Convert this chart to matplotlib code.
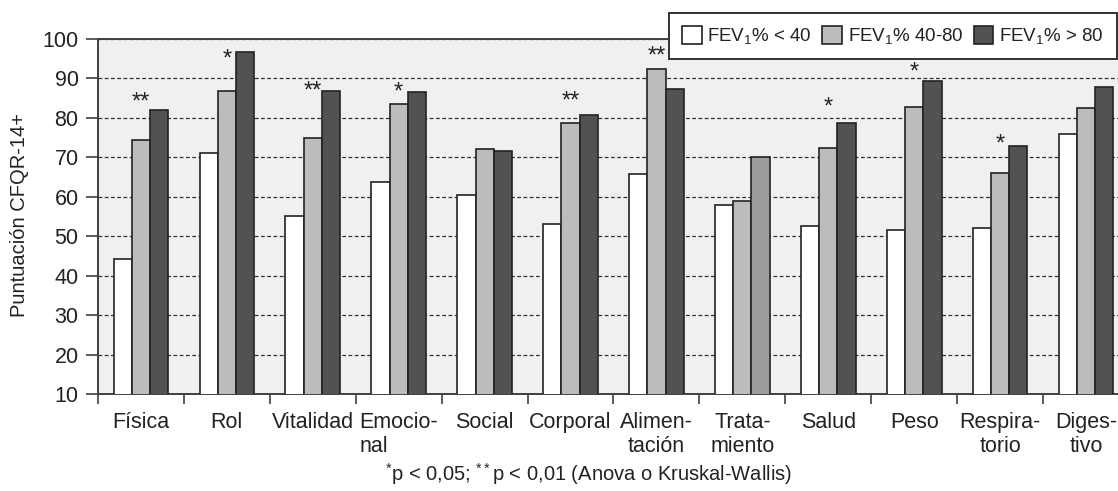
import matplotlib
matplotlib.use("Agg")
import matplotlib.pyplot as plt
import numpy as np
from matplotlib.patches import Patch

plt.rcParams['font.family'] = ['Liberation Sans', 'DejaVu Sans']
plt.rcParams['mathtext.fontset'] = 'custom'
plt.rcParams['mathtext.rm'] = 'Liberation Sans'
plt.rcParams['mathtext.it'] = 'Liberation Sans'
plt.rcParams['mathtext.default'] = 'rm'

categories = ["Física", "Rol", "Vitalidad", "Emocio-\nnal", "Social", "Corporal",
              "Alimen-\ntación", "Trata-\nmiento", "Salud", "Peso", "Respira-\ntorio",
              "Diges-\ntivo"]
fev_lt40 = [44.2, 71.2, 55.2, 63.8, 60.5, 53.1, 65.9, 57.8, 52.6, 51.6, 52.1, 76.0]
fev_40_80 = [74.3, 86.7, 75.0, 83.4, 72.2, 78.6, 92.5, 58.9, 72.3, 82.8, 66.0, 82.4]
fev_gt80 = [81.9, 96.7, 86.7, 86.6, 71.7, 80.7, 87.2, 70.2, 78.6, 89.4, 72.9, 87.8]
signif = ["**", "*", "**", "*", "", "**", "**", "", "*", "*", "*", ""]
signif_y = [85.3, 96.2, 88.1, 87.9, 0, 85.6, 97.0, 0, 84.0, 92.9, 74.7, 0]
series_labels = ["FEV$_1$% < 40", "FEV$_1$% 40-80", "FEV$_1$% > 80"]
yticks = [10, 20, 30, 40, 50, 60, 70, 80, 90, 100]
footnote = "$^{*}$p < 0,05; $^{**}$p < 0,01 (Anova o Kruskal-Wallis)"
ylabel = "Puntuación CFQR-14+"

W, H = 1118, 491
fig = plt.figure(figsize=(W / 100, H / 100), dpi=100)
left, right, top, bottom = 98, 1129, 39, 394
ax = fig.add_axes([left / W, 1 - bottom / H, (right - left) / W, (bottom - top) / H])

c_white = "#ffffff"
c_light = "#bbbcbb"
c_dark = "#525252"
dark_colors = [c_dark] * len(categories)
dark_colors[7] = "#9c9c9c"
edge = "#222222"

n = len(categories)
x = np.arange(n) + 0.5
bw = 0.212
ax.bar(x - bw, fev_lt40, bw, color=c_white, edgecolor=edge, linewidth=1.2, zorder=3)
ax.bar(x, fev_40_80, bw, color=c_light, edgecolor=edge, linewidth=1.2, zorder=3)
ax.bar(x + bw, fev_gt80, bw, color=dark_colors, edgecolor=edge, linewidth=1.2, zorder=3)

for xi, s, sy in zip(x, signif, signif_y):
    if s:
        ax.annotate(s, (xi, sy), xytext=(0, -4), textcoords='offset points',
                    ha='center', va='center', fontsize=17, color='#222222', zorder=4)

ax.set_xlim(0, n)
ax.set_ylim(10, 100)
ax.set_facecolor("#f0f0f0")
ax.set_yticks(yticks)
ax.set_yticklabels([str(v) for v in yticks], fontsize=15.5, color='#222222')
ax.yaxis.grid(True, linestyle=(0, (3, 2)), color='#333333', linewidth=0.9)
ax.set_axisbelow(True)

ax.set_xticks(np.arange(n + 1))
ax.set_xticklabels([])
ax.set_xticks(x, minor=True)
ax.set_xticklabels(categories, minor=True, fontsize=15.5, color='#222222')
ax.tick_params(axis='x', which='major', length=7, width=1.2, color='#404040', direction='out')
ax.tick_params(axis='x', which='minor', length=0, pad=13)
ax.tick_params(axis='y', length=9, width=1.2, color='#404040', pad=5)
for lbl in ax.get_xticklabels(minor=True):
    if lbl.get_text().startswith("Emocio"):
        lbl.set_multialignment('left')

for sp in ax.spines.values():
    sp.set_color('#404040')
    sp.set_linewidth(1.4)

fig.text(20 / W, 1 - 215 / H, ylabel, rotation=90, ha='center', va='center',
         fontsize=14.5, color='#222222')
fig.text(588 / W, 1 - 474 / H, footnote, ha='center', va='center', fontsize=14.5,
         color='#222222')

handles = [Patch(facecolor=c, edgecolor=edge, linewidth=1.2) for c in (c_white, c_light, c_dark)]
leg = fig.legend(handles, series_labels, loc='upper left',
                 bbox_to_anchor=(669 / W, 1 - 13 / H), ncol=3, fontsize=13.5,
                 handlelength=1.05, handleheight=1.05, handletextpad=0.3,
                 columnspacing=0.55, borderpad=0.7, borderaxespad=0,
                 fancybox=False, framealpha=1, edgecolor='#333333')
leg.get_frame().set_linewidth(1.4)
for t in leg.get_texts():
    t.set_color('#222222')

fig.savefig("out.png", dpi=100)
